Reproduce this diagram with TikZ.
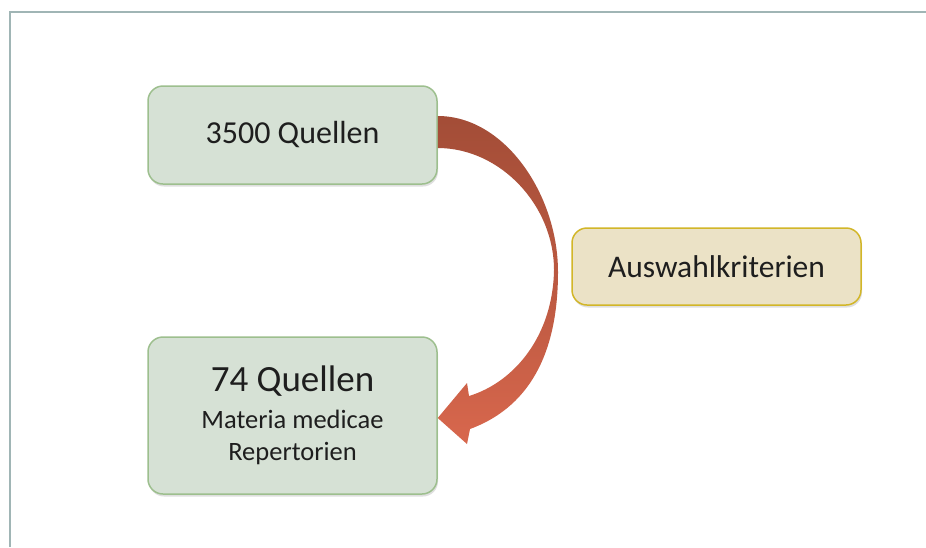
\documentclass[tikz,border=0pt]{standalone}
\usepackage{fontspec}
\setmainfont{Carlito}
\usetikzlibrary{shadows,calc}
\definecolor{framecol}{HTML}{A0B5B5}
\definecolor{gfill}{HTML}{D6E1D5}
\definecolor{gdraw}{HTML}{9DBF8E}
\definecolor{yfill}{HTML}{EBE2C6}
\definecolor{ydraw}{HTML}{D2B628}
\definecolor{txt}{HTML}{1E1E1E}
\definecolor{arrtop}{HTML}{A34D37}
\definecolor{arrbot}{HTML}{D8674D}
\begin{document}
\begin{tikzpicture}[x=1pt,y=-1pt,
  boxbase/.style={rounded corners=15pt, line width=1.5pt, text=txt,
    minimum width=289pt, inner sep=0pt,
    drop shadow={opacity=0.25, shadow xshift=1pt, shadow yshift=-2.5pt}},
  gbox/.style={boxbase, fill=gfill, draw=gdraw},
  ybox/.style={boxbase, fill=yfill, draw=ydraw},
  arrowshade/.style={top color=arrtop, bottom color=arrbot, middle color=arrtop!55!arrbot}
]
\useasboundingbox (0,0) rectangle (926,547);
\fill[white] (0,0) rectangle (926,547);
\draw[framecol, line width=2.2pt] (10,547) -- (10,12) -- (926,12);

\node[gbox, minimum height=98pt, font=\fontsize{32}{38}\selectfont] (top) at (292.5,135) {3500 Quellen};
\node[gbox, minimum height=157pt, align=center, font=\fontsize{26.5}{32}\selectfont] (bot) at (292.5,415.5)
  {{\fontsize{37}{32}\selectfont 74 Quellen}\\[5pt]Materia medicae\\Repertorien};
\node[ybox, minimum height=77pt, font=\fontsize{31.5}{38}\selectfont] (aus) at (716.5,266.5) {Auswahlkriterien};

\path[arrowshade] ($(top.east)+(0,-19)$) .. controls (505,116) and (558,195) .. (558,272)
  .. controls (558,345) and (535,405) .. (470,429) -- (467,444)
  -- ($(bot.east)+(0,2.5)$) -- (467,383) -- (469,396)
  .. controls (515,382) and (553,335) .. (554,270)
  .. controls (554,205) and (500,148) .. ($(top.east)+(0,13)$) -- cycle;
\end{tikzpicture}
\end{document}
